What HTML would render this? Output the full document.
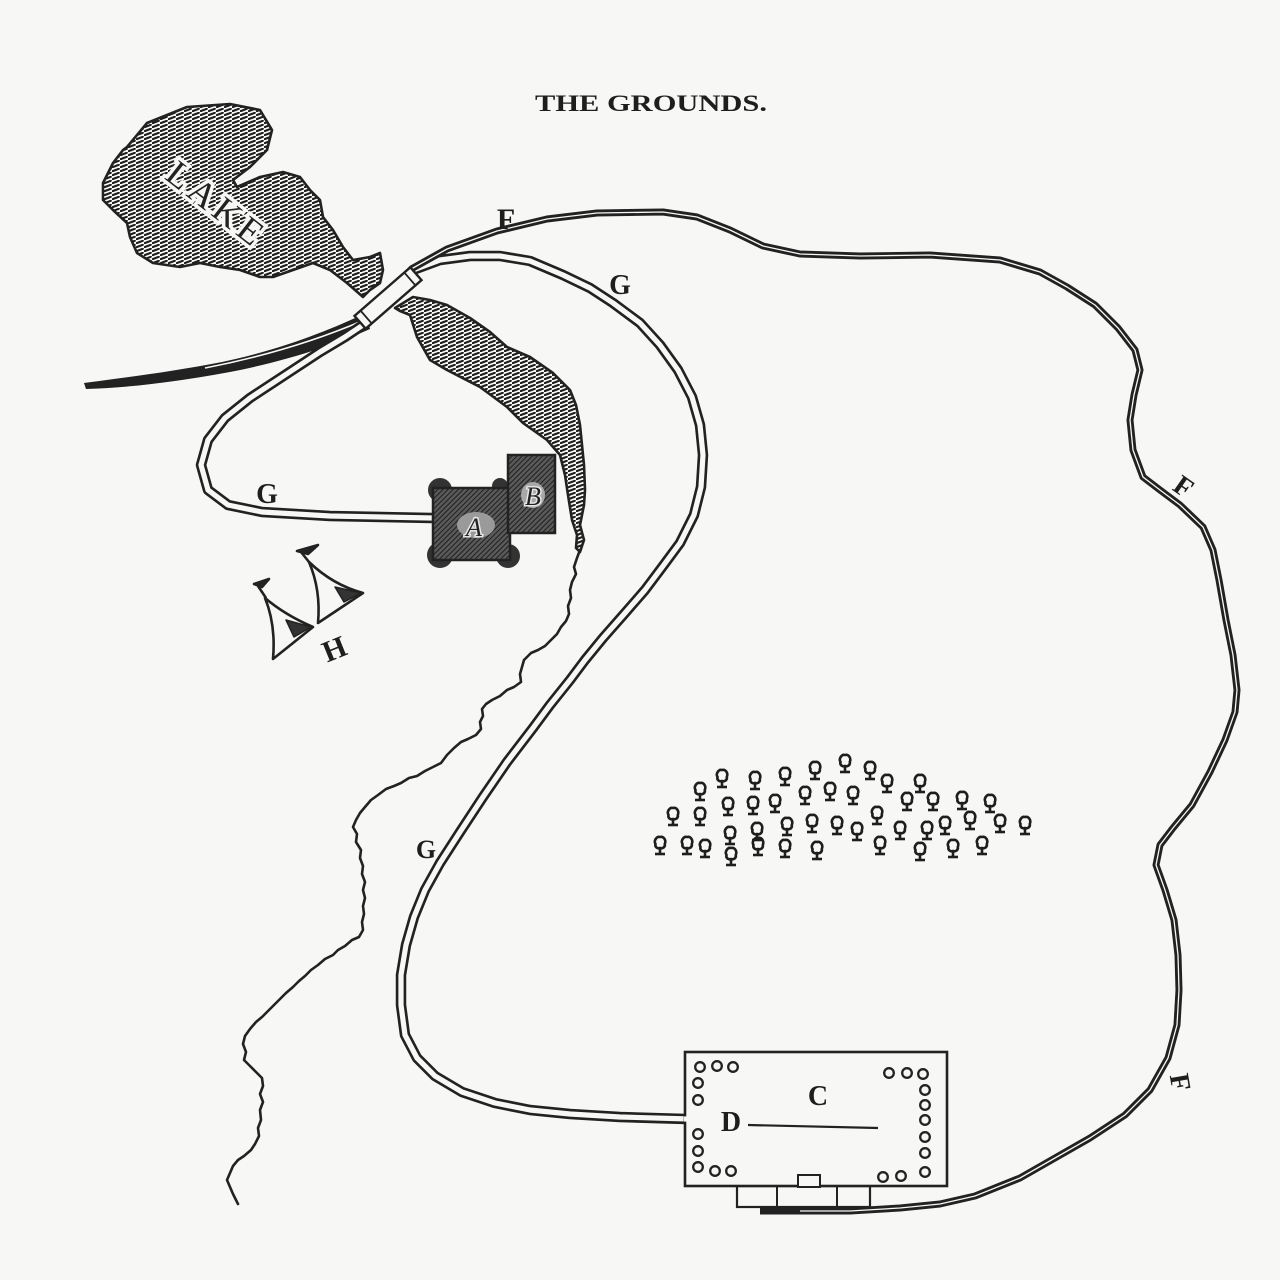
<!DOCTYPE html>
<html>
<head>
<meta charset="utf-8">
<style>
html,body{margin:0;padding:0;background:#f7f7f5;}
svg{display:block;}
</style>
</head>
<body>
<svg xmlns="http://www.w3.org/2000/svg" xmlns:xlink="http://www.w3.org/1999/xlink" width="1280" height="1280" viewBox="0 0 1280 1280">
<defs>
  <pattern id="water" patternUnits="userSpaceOnUse" width="8" height="4">
    <line x1="0.3" y1="3.3" x2="6.8" y2="0.8" stroke="#1e1e1e" stroke-width="2.1" stroke-linecap="round"/>
  </pattern>
  <pattern id="hatch" patternUnits="userSpaceOnUse" width="3.6" height="3.6" patternTransform="rotate(45)">
    <rect width="3.6" height="3.6" fill="#5a5a5a"/>
    <line x1="0" y1="0" x2="0" y2="3.6" stroke="#1e1e1e" stroke-width="2"/>
  </pattern>
  <g id="t">
    <path d="M-4.5,-3 C-6.5,-6 -3.5,-11 0,-10 C3.5,-11 6.5,-7 4.8,-3 C5.5,0.5 2,1.8 0,1 C-2,1.8 -5.5,0.5 -4.5,-3 Z" fill="none" stroke="#1e1e1e" stroke-width="2.6"/>
    <line x1="0" y1="1" x2="0" y2="7" stroke="#1e1e1e" stroke-width="2.6"/>
    <line x1="-5" y1="7" x2="5" y2="7" stroke="#1e1e1e" stroke-width="2.6"/>
  </g>
</defs>

<rect width="1280" height="1280" fill="#f7f7f5"/>

<text x="535" y="111" font-family="Liberation Serif, serif" font-weight="bold" font-size="23" fill="#1e1e1e" textLength="232" lengthAdjust="spacingAndGlyphs">THE GROUNDS.</text>

<!-- Upper lake -->
<polygon points="127,147 147,123 187,107 230,104 260,110 272,130 267,150 250,167 233,180 237,187 260,177 283,172 300,177 310,190 320,200 323,217 333,230 343,247 353,260 370,257 380,253 383,270 380,283 370,290 363,297 347,283 330,270 313,263 293,270 273,277 260,277 240,270 220,267 200,263 180,267 153,263 137,253 130,237 127,223 113,210 103,200 103,183 113,163 123,150"
  fill="url(#water)" stroke="#222" stroke-width="2.6" stroke-linejoin="round"/>
<text transform="translate(215,203) rotate(38)" text-anchor="middle" font-family="Liberation Serif, serif" font-size="36" fill="#222" stroke="#f7f7f5" stroke-width="7" paint-order="stroke" y="12" textLength="112" lengthAdjust="spacing">LAKE</text>

<!-- Lower water strip -->
<polygon points="395,308 413,297 430,300 447,305 470,318 490,332 507,347 530,357 553,373 570,390 576,405 580,425 582,445 584,465 585,490 584,505 580,525 584,540 580,552 576,548 577,535 572,520 568,495 565,475 560,455 547,440 523,423 507,407 480,387 447,370 430,360 417,337 410,315 400,311"
  fill="url(#water)" stroke="#222" stroke-width="2.6" stroke-linejoin="round"/>

<!-- River -->
<polyline fill="none" stroke="#222" stroke-width="2.6" stroke-linejoin="round" stroke-linecap="round"
 points="580,550 577,558 574,567 576,574 572,582 570,590 571,598 568,606 569,614 566,621 561,627 557,634 551,640 545,646 538,650 531,653 524,660 522,667 520,674 521,682 514,687 507,690 500,696 492,700 486,704 482,709 483,716 480,722 481,729 476,735 468,739 461,742 454,748 447,755 441,763 433,767 425,771 417,776 409,778 401,783 394,786 386,789 378,795 371,800 365,807 360,813 356,820 353,827 357,834 356,842 361,850 360,858 363,866 362,874 365,882 363,890 365,898 363,906 364,914 362,922 363,930 359,937 352,940 345,946 338,950 333,955 325,959 318,965 311,970 305,976 299,981 293,987 286,993 280,999 274,1005 268,1011 262,1017 256,1022 250,1029 245,1036 243,1044 246,1052 244,1060 250,1066 256,1072 262,1078 263,1086 260,1094 263,1102 260,1110 261,1120 258,1128 259,1136 255,1144 251,1150 244,1156 238,1160 233,1166 230,1173 227,1180 230,1187 233,1194 238,1204"/>

<!-- F road left tapered part -->
<path d="M366,313 C330,330 280,350 222,362 C170,372 122,378 84,383 L86,389 C126,388 176,382 230,372 C287,361 337,344 370,329 Z" fill="#222"/>
<path d="M362,321 C322,338 272,355 205,368" fill="none" stroke="#f7f7f5" stroke-width="1.6"/>

<!-- G road (double line) -->
<path d="M432,518 L330,516 L262,512 L228,505 L208,490 L201,465 L208,440 L225,418 L250,398 L285,375 L320,352 L345,337 L366,323 L388,298 L413,270 L440,260 L470,256 L500,256 L530,261 L563,275 L590,288 L613,303 L640,323 L660,345 L678,370 L692,397 L700,425 L703,455 L701,487 L694,515 L680,543 L663,566 L645,590 L625,613 L603,638 L585,660 L570,680 L550,705 L533,728 L507,762 L483,797 L460,832 L440,863 L425,890 L414,917 L406,945 L401,975 L401,1005 L405,1035 L417,1058 L435,1076 L462,1092 L495,1103 L530,1110 L570,1114 L620,1117 L686,1119"
 fill="none" stroke="#222" stroke-width="10.5" stroke-linejoin="round"/>
<path d="M432,518 L330,516 L262,512 L228,505 L208,490 L201,465 L208,440 L225,418 L250,398 L285,375 L320,352 L345,337 L366,323 L388,298 L413,270 L440,260 L470,256 L500,256 L530,261 L563,275 L590,288 L613,303 L640,323 L660,345 L678,370 L692,397 L700,425 L703,455 L701,487 L694,515 L680,543 L663,566 L645,590 L625,613 L603,638 L585,660 L570,680 L550,705 L533,728 L507,762 L483,797 L460,832 L440,863 L425,890 L414,917 L406,945 L401,975 L401,1005 L405,1035 L417,1058 L435,1076 L462,1092 L495,1103 L530,1110 L570,1114 L620,1117 L690,1119"
 fill="none" stroke="#f7f7f5" stroke-width="5.2" stroke-linejoin="round"/>

<!-- F road (double line) -->
<path d="M400,280 L413,268 L447,249 L497,231 L547,219 L597,213 L663,212 L697,217 L730,230 L763,246 L800,254 L860,256 L930,255 L1000,260 L1040,272 L1067,287 L1095,305 L1118,328 L1135,350 L1140,370 L1134,395 L1130,420 L1133,450 L1143,477 L1160,490 L1180,505 L1203,527 L1213,550 L1219,580 L1226,620 L1233,655 L1237,690 L1235,712 L1225,740 L1210,772 L1192,805 L1173,828 L1160,845 L1156,865 L1165,890 L1174,920 L1178,955 L1179,990 L1177,1025 L1168,1058 L1150,1090 L1125,1115 L1090,1138 L1055,1158 L1020,1178 L975,1196 L940,1204 L900,1208 L850,1211 L760,1211"
 fill="none" stroke="#222" stroke-width="7" stroke-linejoin="round"/>
<path d="M400,280 L413,268 L447,249 L497,231 L547,219 L597,213 L663,212 L697,217 L730,230 L763,246 L800,254 L860,256 L930,255 L1000,260 L1040,272 L1067,287 L1095,305 L1118,328 L1135,350 L1140,370 L1134,395 L1130,420 L1133,450 L1143,477 L1160,490 L1180,505 L1203,527 L1213,550 L1219,580 L1226,620 L1233,655 L1237,690 L1235,712 L1225,740 L1210,772 L1192,805 L1173,828 L1160,845 L1156,865 L1165,890 L1174,920 L1178,955 L1179,990 L1177,1025 L1168,1058 L1150,1090 L1125,1115 L1090,1138 L1055,1158 L1020,1178 L975,1196 L940,1204 L900,1208 L850,1211 L800,1211"
 fill="none" stroke="#f7f7f5" stroke-width="1.3" stroke-linejoin="round"/>

<!-- Bridge -->
<g transform="translate(388,298) rotate(-41)">
  <rect x="-37" y="-8.5" width="74" height="17" fill="#f7f7f5" stroke="#222" stroke-width="2.4"/>
  <line x1="-29" y1="-8.5" x2="-29" y2="8.5" stroke="#222" stroke-width="1.8"/>
  <line x1="29" y1="-8.5" x2="29" y2="8.5" stroke="#222" stroke-width="1.8"/>
</g>

<!-- Building A -->
<g fill="#333">
  <circle cx="440" cy="490" r="12"/>
  <circle cx="440" cy="555" r="13"/>
  <circle cx="508" cy="556" r="12"/>
  <circle cx="500" cy="486" r="8"/>
</g>
<rect x="433" y="488" width="77" height="72" fill="url(#hatch)" stroke="#222" stroke-width="2.5"/>
<ellipse cx="476" cy="525" rx="19" ry="13" fill="#9a9a9a"/>
<text x="474" y="536" text-anchor="middle" font-family="Liberation Serif, serif" font-style="italic" font-size="26" fill="#222" stroke="#e6e6e6" stroke-width="3" paint-order="stroke">A</text>

<!-- Building B -->
<rect x="508" y="455" width="47" height="78" fill="url(#hatch)" stroke="#222" stroke-width="2.5"/>
<ellipse cx="533" cy="495" rx="12" ry="13" fill="#a8a8a8"/>
<text x="533" y="505" text-anchor="middle" font-family="Liberation Serif, serif" font-style="italic" font-size="26" fill="#222" stroke="#e6e6e6" stroke-width="3" paint-order="stroke">B</text>

<!-- Tents -->
<g fill="none" stroke="#222" stroke-width="2.6" stroke-linejoin="round">
  <line x1="258" y1="586" x2="266" y2="598"/>
  <path d="M254,584 L269,579 L262,587 Z" fill="#222"/>
  <path d="M265,598 Q276,625 273,659 L313,627 Q285,615 265,598 Z" fill="#f7f7f5"/>
  <path d="M286,620 L311,627 L294,637 Z" fill="#333" stroke-width="1.5"/>
  <line x1="301" y1="552" x2="309" y2="562"/>
  <path d="M297,551 L318,545 L308,554 Z" fill="#222"/>
  <path d="M309,562 Q321,590 318,623 L363,593 Q333,585 309,562 Z" fill="#f7f7f5"/>
  <path d="M335,587 L361,593 L344,602 Z" fill="#333" stroke-width="1.5"/>
</g>

<!-- Trees -->
<g>
  <use href="#t" xlink:href="#t" x="700" y="793"/>
  <use href="#t" xlink:href="#t" x="722" y="780"/>
  <use href="#t" xlink:href="#t" x="755" y="782"/>
  <use href="#t" xlink:href="#t" x="785" y="778"/>
  <use href="#t" xlink:href="#t" x="815" y="772"/>
  <use href="#t" xlink:href="#t" x="845" y="765"/>
  <use href="#t" xlink:href="#t" x="870" y="772"/>
  <use href="#t" xlink:href="#t" x="887" y="785"/>
  <use href="#t" xlink:href="#t" x="920" y="785"/>
  <use href="#t" xlink:href="#t" x="933" y="803"/>
  <use href="#t" xlink:href="#t" x="962" y="802"/>
  <use href="#t" xlink:href="#t" x="990" y="805"/>
  <use href="#t" xlink:href="#t" x="673" y="818"/>
  <use href="#t" xlink:href="#t" x="700" y="818"/>
  <use href="#t" xlink:href="#t" x="728" y="808"/>
  <use href="#t" xlink:href="#t" x="753" y="807"/>
  <use href="#t" xlink:href="#t" x="775" y="805"/>
  <use href="#t" xlink:href="#t" x="805" y="797"/>
  <use href="#t" xlink:href="#t" x="830" y="793"/>
  <use href="#t" xlink:href="#t" x="853" y="797"/>
  <use href="#t" xlink:href="#t" x="877" y="817"/>
  <use href="#t" xlink:href="#t" x="907" y="803"/>
  <use href="#t" xlink:href="#t" x="945" y="827"/>
  <use href="#t" xlink:href="#t" x="970" y="822"/>
  <use href="#t" xlink:href="#t" x="1000" y="825"/>
  <use href="#t" xlink:href="#t" x="1025" y="827"/>
  <use href="#t" xlink:href="#t" x="660" y="847"/>
  <use href="#t" xlink:href="#t" x="687" y="847"/>
  <use href="#t" xlink:href="#t" x="705" y="850"/>
  <use href="#t" xlink:href="#t" x="730" y="837"/>
  <use href="#t" xlink:href="#t" x="757" y="833"/>
  <use href="#t" xlink:href="#t" x="787" y="828"/>
  <use href="#t" xlink:href="#t" x="812" y="825"/>
  <use href="#t" xlink:href="#t" x="837" y="827"/>
  <use href="#t" xlink:href="#t" x="857" y="833"/>
  <use href="#t" xlink:href="#t" x="880" y="847"/>
  <use href="#t" xlink:href="#t" x="900" y="832"/>
  <use href="#t" xlink:href="#t" x="927" y="832"/>
  <use href="#t" xlink:href="#t" x="953" y="850"/>
  <use href="#t" xlink:href="#t" x="982" y="847"/>
  <use href="#t" xlink:href="#t" x="731" y="858"/>
  <use href="#t" xlink:href="#t" x="758" y="848"/>
  <use href="#t" xlink:href="#t" x="785" y="850"/>
  <use href="#t" xlink:href="#t" x="817" y="852"/>
  <use href="#t" xlink:href="#t" x="920" y="853"/>
</g>

<!-- Building C -->
<g fill="none" stroke="#222">
  <rect x="737" y="1186" width="133" height="21" stroke-width="2.2"/>
  <line x1="777" y1="1186" x2="777" y2="1207" stroke-width="2"/>
  <line x1="837" y1="1186" x2="837" y2="1207" stroke-width="2"/>
  <rect x="685" y="1052" width="262" height="134" fill="#f7f7f5" stroke-width="2.6"/>
  <rect x="798" y="1175" width="22" height="12" fill="#f7f7f5" stroke-width="2"/>
  <line x1="748" y1="1125" x2="878" y2="1128" stroke-width="2.2"/>
</g>
<line x1="684" y1="1119" x2="692" y2="1119" stroke="#f7f7f5" stroke-width="5.2"/>
<g fill="none" stroke="#222" stroke-width="2.3">
  <circle cx="700" cy="1067" r="4.8"/><circle cx="717" cy="1066" r="4.8"/><circle cx="733" cy="1067" r="4.8"/>
  <circle cx="698" cy="1083" r="4.8"/><circle cx="698" cy="1100" r="4.8"/>
  <circle cx="698" cy="1134" r="4.8"/><circle cx="698" cy="1151" r="4.8"/><circle cx="698" cy="1167" r="4.8"/>
  <circle cx="715" cy="1171" r="4.8"/><circle cx="731" cy="1171" r="4.8"/>
  <circle cx="889" cy="1073" r="4.8"/><circle cx="907" cy="1073" r="4.8"/><circle cx="923" cy="1074" r="4.8"/>
  <circle cx="925" cy="1090" r="4.8"/><circle cx="925" cy="1105" r="4.8"/><circle cx="925" cy="1120" r="4.8"/>
  <circle cx="925" cy="1137" r="4.8"/><circle cx="925" cy="1153" r="4.8"/><circle cx="925" cy="1172" r="4.8"/>
  <circle cx="883" cy="1177" r="4.8"/><circle cx="901" cy="1176" r="4.8"/>
</g>

<!-- Labels -->
<g font-family="Liberation Serif, serif" font-weight="bold" fill="#1e1e1e">
  <text x="818" y="1105" text-anchor="middle" font-size="28">C</text>
  <text x="731" y="1131" text-anchor="middle" font-size="28">D</text>
  <text x="506" y="229" text-anchor="middle" font-size="30">F</text>
  <text x="267" y="503" text-anchor="middle" font-size="28">G</text>
  <text x="620" y="294" text-anchor="middle" font-size="28">G</text>
  <text x="426" y="858" text-anchor="middle" font-size="26">G</text>
  <text transform="translate(1184,486) rotate(35)" text-anchor="middle" y="10" font-size="28">F</text>
  <text transform="translate(1181,1082) rotate(80)" text-anchor="middle" y="10" font-size="28">F</text>
  <text transform="translate(334,648) rotate(-22)" text-anchor="middle" y="11" font-size="30">H</text>
</g>
</svg>
</body>
</html>
